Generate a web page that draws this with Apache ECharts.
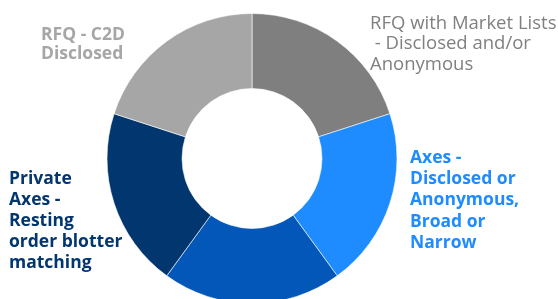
<!DOCTYPE html>
<html>
<head>
<meta charset="utf-8">
<script src="https://cdn.jsdelivr.net/npm/echarts@6/dist/echarts.min.js"></script>
<style>html,body{margin:0;padding:0;background:#fff;}#c{width:558px;height:299px;}</style>
</head>
<body>
<div id="c"></div>
<script>
const categories = [
  "RFQ with Market Lists\n - Disclosed and/or\nAnonymous",
  "Axes -\nDisclosed or\nAnonymous,\nBroad or\nNarrow",
  "",
  "Private\nAxes -\nResting\norder blotter\nmatching",
  "RFQ - C2D\nDisclosed"
];
const values = [20, 20, 20, 20, 20];

const sliceColors = ["#7F7F7F", "#1E8CFF", "#0257B8", "#02366F", "#A6A6A6"];
const labelColors = ["#808080", "#1E8CFF", "#0257B8", "#02366F", "#A6A6A6"];
const labelWeights = ["normal", "bold", "bold", "bold", "bold"];
const labelSizes = [18.5, 17.5, 17.5, 17.5, 17.5];
const labelLineHeights = [20.5, 21.3, 21, 21, 19];
const labelPos = [[370, 13], [410, 147], null, [9, 169], [41, 26]];

const chart = echarts.init(document.getElementById('c'));
chart.setOption({
  animation: false,
  series: [{
    type: 'pie',
    center: [252, 158.5],
    radius: [70, 145],
    startAngle: 90,
    clockwise: true,
    avoidLabelOverlap: false,
    itemStyle: { borderColor: '#ffffff', borderWidth: 0.6 },
    label: {
      show: true,
      position: 'outside',
      fontFamily: 'Open Sans',
      fontSize: 17,
      align: 'left'
    },
    labelLine: { show: false },
    emphasis: { disabled: true },
    labelLayout: function (params) {
      const p = labelPos[params.dataIndex];
      if (!p) return {};
      return { x: p[0], y: p[1], align: 'left', verticalAlign: 'top' };
    },
    data: categories.map((name, i) => ({
      name: name,
      value: values[i],
      itemStyle: { color: sliceColors[i] },
      label: {
        show: labelPos[i] !== null,
        color: labelColors[i],
        fontWeight: labelWeights[i],
        fontSize: labelSizes[i],
        lineHeight: labelLineHeights[i]
      }
    }))
  }]
});
</script>
</body>
</html>
